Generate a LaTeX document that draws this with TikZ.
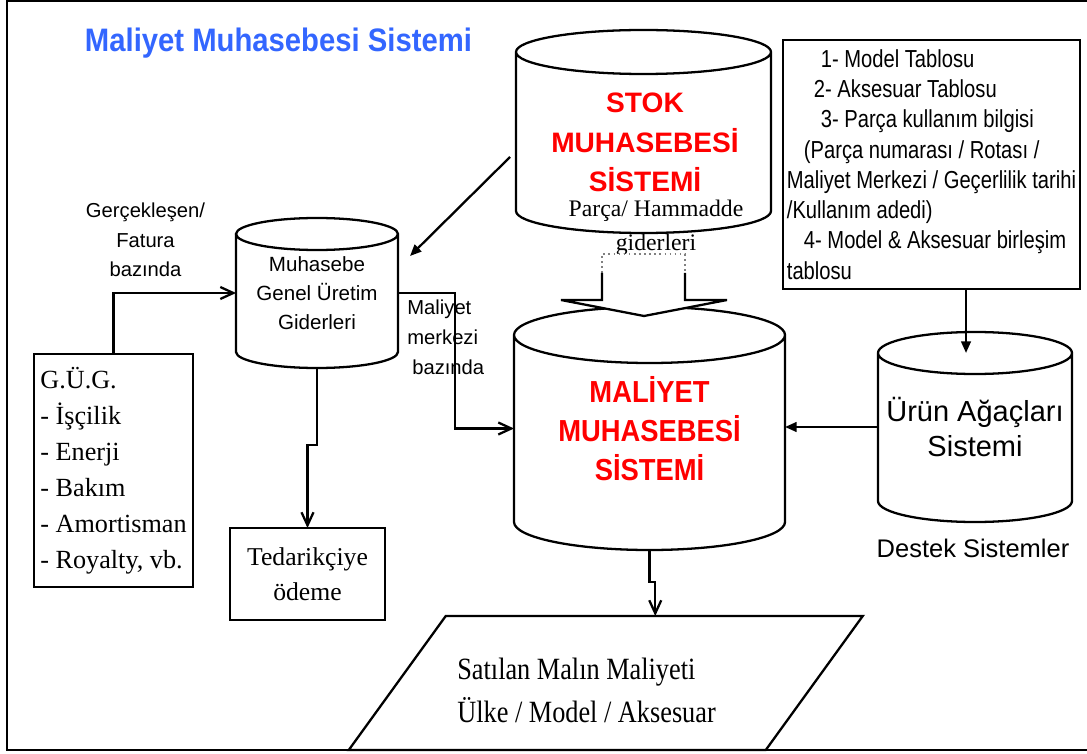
\documentclass[tikz,border=0pt]{standalone}
\usepackage{fontspec}
\setmainfont{Liberation Serif}
\setsansfont{Liberation Sans}
\newfontfamily\narrowsans{Liberation Sans}[FakeStretch=0.9]
\newfontfamily\condsans{Liberation Sans}[FakeStretch=0.82]
\newfontfamily\narrowserif{Liberation Serif}[FakeStretch=0.85]
\usepackage{tikz}
\usetikzlibrary{positioning,calc,arrows.meta}
\definecolor{titleblue}{RGB}{51,102,255}

% drum outline drawn around a placeholder node: node, x radius, y radius
\newcommand{\dbdrum}[3]{%
  \draw[wire] ([yshift=-#3]#1.north west) -- ([yshift=#3]#1.south west)
    arc[start angle=180, end angle=360, x radius=#2, y radius=#3]
    -- ([yshift=-#3]#1.north east)
    arc[start angle=0, end angle=360, x radius=#2, y radius=#3];}

\begin{document}
\begin{tikzpicture}[
    wire/.style={line width=1.3pt},
    drum/.style={rectangle, outer sep=0pt, inner sep=0pt, align=center},
    panel/.style={draw, line width=1.3pt, rectangle, outer sep=0pt},
    arr/.style={wire, -{Straight Barb[length=2.6mm, width=2.4mm]}},
    farr/.style={wire, -{Triangle[length=2.3mm, width=1.9mm]}}
]
\useasboundingbox (0,0) rectangle (21.74,15.06);

% page frame
\draw[line width=1.5pt] (21.9,15.04) -- (0.14,15.04) -- (0.14,0.06) -- (21.9,0.06);

% title
\node[font=\narrowsans\bfseries\fontsize{18.5}{22}\selectfont, text=titleblue, anchor=base] (title) at (5.57,14.02) {Maliyet Muhasebesi Sistemi};

% Stok muhasebesi (top)
\node[drum, minimum width=5.1cm, minimum height=4.06cm] (stok) at (12.87,12.43) {};
\dbdrum{stok}{2.55cm}{0.44cm}
\node[font=\sffamily\bfseries\fontsize{16}{22.5}\selectfont, text=red, align=center] (stoklbl) at (12.90,12.21) {STOK\\MUHASEBESİ\\SİSTEMİ};
\node[font=\fontsize{13.5}{19}\selectfont, align=center] (parcalbl) at (13.12,10.50) {Parça/ Hammadde\\giderleri};

% right table list
\node[panel, minimum width=5.94cm, minimum height=4.98cm, inner sep=2pt, align=left, font=\condsans\fontsize{14}{17.2}\selectfont] (tbl) at (18.63,11.77) {%
\hspace*{19.3pt}1- Model Tablosu\\
\hspace*{15.4pt}2- Aksesuar Tablosu\\
\hspace*{19.3pt}3- Parça kullanım bilgisi\\
\hspace*{9.7pt}(Parça numarası / Rotası /\\
Maliyet Merkezi / Geçerlilik tarihi\\
/Kullanım adedi)\\
\hspace*{9.7pt}4- Model \& Aksesuar birleşim\\
tablosu};

% muhasebe genel uretim giderleri
\node[drum, minimum width=3.24cm, minimum height=3.0cm, font=\sffamily\fontsize{11.7}{16.5}\selectfont] (muh) at (6.34,9.20) {Muhasebe\\Genel Üretim\\Giderleri};
\dbdrum{muh}{1.62cm}{0.32cm}

% G.U.G. list
\node[panel, minimum width=3.18cm, minimum height=4.66cm, align=left, font=\fontsize{14.9}{20.5}\selectfont] (gug) at (2.27,5.65) {G.Ü.G.\\- İşçilik\\- Enerji\\- Bakım\\- Amortisman\\- Royalty, vb.};

% tedarikciye odeme
\node[panel, minimum width=3.1cm, minimum height=1.84cm, align=center, font=\fontsize{14.6}{20}\selectfont] (ted) at (6.15,3.58) {Tedarikçiye\\ödeme};

% maliyet muhasebesi (centre)
\node[drum, minimum width=5.42cm, minimum height=4.86cm, text=red, font=\narrowsans\bfseries\fontsize{17.3}{22.2}\selectfont] (mal) at (12.99,6.49) {MALİYET\\MUHASEBESİ\\SİSTEMİ};
\dbdrum{mal}{2.71cm}{0.56cm}

% urun agaclari + destek sistemler
\node[drum, minimum width=3.88cm, minimum height=3.8cm, font=\sffamily\fontsize{16.5}{20}\selectfont] (urun) at (19.5,6.52) {Ürün Ağaçları\\Sistemi};
\dbdrum{urun}{1.94cm}{0.42cm}
\coordinate (urunlid) at ([yshift=-0.42cm]urun.north);
\node[font=\sffamily\fontsize{14.5}{17}\selectfont, anchor=base] (destek) at (19.46,3.92) {Destek Sistemler};

% satilan malin maliyeti (parallelogram)
\node[drum, minimum width=8.34cm, minimum height=2.68cm] (sold) at (12.115,1.40) {};
\draw[wire, line join=miter] ([xshift=0.97cm]sold.north west) -- ([xshift=0.97cm]sold.north east)
  -- ([xshift=-0.97cm]sold.south east) -- ([xshift=-0.97cm]sold.south west) -- cycle;
\node[font=\narrowserif\fontsize{17.6}{24}\selectfont, align=left, anchor=west, inner sep=0pt] (soldlbl) at (9.14,1.25) {Satılan Malın Maliyeti\\Ülke / Model / Aksesuar};

% block arrow stok -> maliyet
\fill[white] (12.04,9.98) -- (13.70,9.98) -- (13.70,9.06) -- (14.54,9.06) -- (12.88,8.74) -- (11.22,9.06) -- (12.04,9.06) -- cycle;
\draw[gray, dotted, line width=0.9pt] (12.04,9.60) -- (12.04,9.98) -- (13.70,9.98) -- (13.70,9.60);
\draw[wire, line join=miter] (12.04,9.60) -- (12.04,9.06) -- (11.22,9.06) -- (12.88,8.74) -- (14.54,9.06) -- (13.70,9.06) -- (13.70,9.60);

% edge labels
\node[font=\sffamily\fontsize{11.5}{16.8}\selectfont, align=center] (fatlbl) at (2.91,10.26) {Gerçekleşen/\\Fatura\\bazında};
\node[font=\sffamily\fontsize{11.5}{17}\selectfont, align=left, anchor=west, inner sep=0pt] (merklbl) at (8.14,8.31) {Maliyet\\merkezi\\\hspace*{2.8pt}bazında};

% connectors
\draw[arr] (gug.north) |- (muh.west);
\draw[farr] ([xshift=-0.12cm,yshift=-0.51cm]stok.west) -- ([xshift=0.24cm,yshift=-0.76cm]muh.north east);
\draw[arr] (muh.east) -- ++(1.14,0) |- (mal.west);
\draw[arr] (muh.south) -- ++(0,-1.54) -| (ted.north);
\draw[farr] ([xshift=0.69cm]tbl.south) -- ([xshift=0.69cm]tbl.south |- urunlid);
\draw[farr] (urun.west) -- (mal.east |- urun.west);
\draw[arr] (mal.south) -- ++(0,-0.64) -| ([xshift=0.99cm]sold.north);

\end{tikzpicture}
\end{document}
